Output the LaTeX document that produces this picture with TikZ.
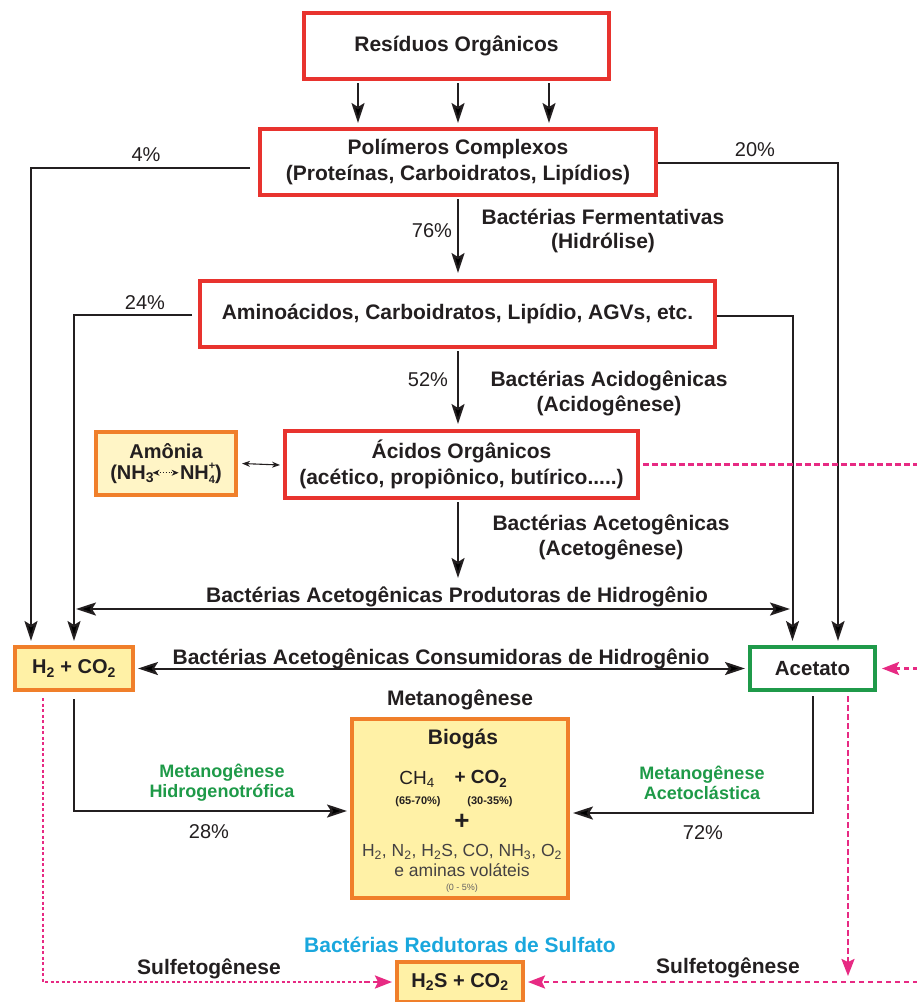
\documentclass[tikz,border=0pt]{standalone}
\usepackage{fontspec}
\setmainfont{Liberation Sans}
\usetikzlibrary{arrows.meta}
\definecolor{bred}{HTML}{E8332E}
\definecolor{borange}{HTML}{F07F2A}
\definecolor{bgreen}{HTML}{1F9A4A}
\definecolor{tgreen}{HTML}{1E9A48}
\definecolor{pinkc}{HTML}{E72A83}
\definecolor{cyantxt}{HTML}{1AA7DD}
\definecolor{fillbio}{HTML}{FFF1A6}
\definecolor{fillamo}{HTML}{FFF5C6}
\definecolor{txt}{HTML}{231F20}
\newcommand{\fs}[2]{\fontsize{#1}{#2}\selectfont}
\begin{document}
\begin{tikzpicture}[x=1pt,y=-1pt,
  >={Stealth[length=20pt,width=13pt,inset=4pt]},
  redbox/.style={draw=bred, line width=4pt, fill=white, inner sep=0pt, align=center, text=txt, font=\bfseries\fs{21}{25.5}},
  orbox/.style={draw=borange, line width=4pt, fill=fillbio, inner sep=0pt, align=center, text=txt, font=\bfseries\fs{20}{21}},
  grbox/.style={draw=bgreen, line width=4pt, fill=white, inner sep=0pt, align=center, text=txt, font=\bfseries\fs{20.5}{24}},
  lbl/.style={text=txt, font=\bfseries\fs{21}{24.5}, align=center, inner sep=0pt},
  pct/.style={text=txt, font=\fs{20}{24}, inner sep=0pt},
  glbl/.style={text=tgreen, font=\bfseries\fs{18}{20}, align=center, inner sep=0pt},
  arr/.style={draw=txt, line width=2pt, ->},
  dbl/.style={draw=txt, line width=2pt, <->},
  pinkd/.style={draw=pinkc, line width=2.4pt, dash pattern=on 5.5pt off 3.5pt},
  pinkdot/.style={draw=pinkc, line width=2.4pt, dash pattern=on 3pt off 2.5pt},
  pinkarr/.style={pinkd, -{Stealth[length=17pt,width=13pt,inset=3pt]}, pinkc}
]
\useasboundingbox (0,0) rectangle (917,1002);

% boxes
\node[redbox, minimum width=305pt, minimum height=66pt] (res) at (456.5,46) {Resíduos Orgânicos};
\node[redbox, minimum width=396pt, minimum height=66pt] (poly) at (458,162) {Polímeros Complexos\\(Proteínas, Carboidratos, Lipídios)};
\node[redbox, minimum width=515pt, minimum height=66pt] (amino) at (457.5,314) {Aminoácidos, Carboidratos, Lipídio, AGVs, etc.};
\node[redbox, minimum width=353pt, minimum height=67pt] (acid) at (461.5,464.5) {Ácidos Orgânicos\\(acético, propiônico, butírico.....)};
\node[orbox, fill=fillamo, minimum width=140pt, minimum height=63pt] (amon) at (166,463.5) {Amônia\\(NH\textsubscript{3}\kern-2pt\tikz[baseline=-0.6ex]\draw[line width=0.9pt, dotted, {Stealth[length=7pt,width=6pt]}-{Stealth[length=7pt,width=6pt]}] (0pt,0pt) -- (26pt,0pt);\kern1pt NH\raisebox{-0.45ex}{\rlap{\raisebox{1.35ex}{\fs{11}{11}+}}\fs{11}{11}4})};
\node[orbox, minimum width=118pt, minimum height=43pt] (h2) at (74,668.5) {H\textsubscript{2} + CO\textsubscript{2}};
\node[grbox, minimum width=125pt, minimum height=43pt] (acet) at (812.5,668.5) {Acetato};
\node[orbox, minimum width=216pt, minimum height=179pt] (bio) at (460,808.5) {};
\node[orbox, minimum width=126pt, minimum height=40pt] (h2s) at (460,982) {H\textsubscript{2}S + CO\textsubscript{2}};

% biogas contents
\node[lbl] (bg1) at (463,739) {Biogás};
\node[text=txt, font=\fs{19}{20}, inner sep=0pt] (ch4) at (417,779) {CH\textsubscript{4}};
\node[text=txt, font=\bfseries\fs{19}{20}, inner sep=0pt] (co2) at (481,779) {+ CO\textsubscript{2}};
\node[text=txt, font=\bfseries\fs{11}{12}, inner sep=0pt] (p1) at (418,802) {(65-70\%)};
\node[text=txt, font=\bfseries\fs{11}{12}, inner sep=0pt] (p2) at (490,802) {(30-35\%)};
\node[text=txt, font=\bfseries\fs{26}{26}, inner sep=0pt] (plus) at (462,822) {+};
\node[text=txt!85, font=\fs{17.5}{18}, inner sep=0pt] (gases) at (462,852) {H\textsubscript{2}, N\textsubscript{2}, H\textsubscript{2}S, CO, NH\textsubscript{3}, O\textsubscript{2}};
\node[text=txt!85, font=\fs{17.5}{18}, inner sep=0pt] (amin) at (462,870) {e aminas voláteis};
\node[text=txt!70, font=\fs{9}{10}, inner sep=0pt] (p3) at (462,888) {(0 - 5\%)};

% labels
\node[pct] (l4) at (146,155) {4\%};
\node[pct] (l20) at (755,150) {20\%};
\node[pct] (l76) at (432,231) {76\%};
\node[pct] (l24) at (145,303) {24\%};
\node[pct] (l52) at (428,380) {52\%};
\node[pct] (l28) at (209,832) {28\%};
\node[pct] (l72) at (703,833) {72\%};
\node[lbl] (ferm) at (603,231) {Bactérias Fermentativas\\(Hidrólise)};
\node[lbl] (acido) at (609,393.5) {Bactérias Acidogênicas\\(Acidogênese)};
\node[lbl] (aceto) at (611,537.5) {Bactérias Acetogênicas\\(Acetogênese)};
\node[lbl] (prod) at (457,597) {Bactérias Acetogênicas Produtoras de Hidrogênio};
\node[lbl] (cons) at (441,659) {Bactérias Acetogênicas Consumidoras de Hidrogênio};
\node[lbl] (metano) at (460,700) {Metanogênese};
\node[glbl] (hidro) at (222,783) {Metanogênese\\Hidrogenotrófica};
\node[glbl] (acl) at (702,783) {Metanogênese\\Acetoclástica};
\node[lbl, text=cyantxt] (bred) at (460,945) {Bactérias Redutoras de Sulfato};
\node[lbl] (sulf1) at (209,969) {Sulfetogênese};
\node[lbl] (sulf2) at (728,968) {Sulfetogênese};

% helper coordinates
\coordinate (x358) at (358,0);
\coordinate (x548) at (549,0);
\coordinate (x458) at (458,0);
\coordinate (redge) at (918,0);
\coordinate (acetoEnd) at (458,578);
\coordinate (prodL) at (76,609);
\coordinate (prodR) at (790,609);
\coordinate (sdown) at (848,976);

% main flow
\draw[arr] ([yshift=-2pt]res.south -| x358) -- ([yshift=4pt]poly.north -| x358);
\draw[arr] ([yshift=-2pt]res.south -| x458) -- ([yshift=4pt]poly.north -| x458);
\draw[arr] ([yshift=-2pt]res.south -| x548) -- ([yshift=4pt]poly.north -| x548);
\draw[arr] ([yshift=-2pt]poly.south -| x458) -- ([yshift=6pt]amino.north -| x458);
\draw[arr] ([yshift=-2pt]amino.south -| x458) -- ([yshift=5pt]acid.north -| x458);
\draw[arr] ([yshift=-2pt]acid.south -| x458) -- (acetoEnd);

% side branches
\draw[arr] ([xshift=-8pt,yshift=-6pt]poly.west) -| ([xshift=-43pt,yshift=4pt]h2.north);
\draw[arr] ([xshift=-6pt,yshift=-1pt]amino.west) -| ([yshift=4pt]h2.north);
\draw[arr] ([yshift=-1pt]poly.east) -| ([xshift=25.5pt,yshift=4pt]acet.north);
\draw[arr] ([yshift=-2pt]amino.east) -| ([xshift=-20pt,yshift=4pt]acet.north);
\draw[dbl] (prodL) -- (prodR);
\draw[dbl] ([xshift=3pt]h2.east) -- ([xshift=-3pt]acet.west);
\draw[draw=txt, line width=1.1pt, {Stealth[length=8pt,width=6pt]}-{Stealth[length=8pt,width=6pt]}] ([xshift=4pt]amon.east) -- ([xshift=-3pt,yshift=-0.5pt]acid.west);
\draw[arr] ([yshift=-7pt]h2.south) |- ([xshift=-3pt,yshift=-2.5pt]bio.west);
\draw[arr] ([yshift=-4pt]acet.south) |- ([xshift=3pt,yshift=-4.5pt]bio.east);

% sulfate / pink dashed
\draw[pinkd] ([xshift=3pt]acid.east) -- (acid.east -| redge);
\draw[pinkarr] (acet.east -| redge) -- ([xshift=5pt]acet.east);
\draw[pinkarr] ([xshift=35.5pt,yshift=-4pt]acet.south) -- (sdown);
\draw[pinkarr] (h2s.east -| redge) -- ([xshift=3pt]h2s.east);
\draw[pinkdot] ([xshift=-31pt,yshift=-6pt]h2.south) |- ([xshift=-30pt]h2s.west);
\draw[pinkarr] ([xshift=-31pt]h2s.west) -- ([xshift=-3pt]h2s.west);
\end{tikzpicture}
\end{document}
